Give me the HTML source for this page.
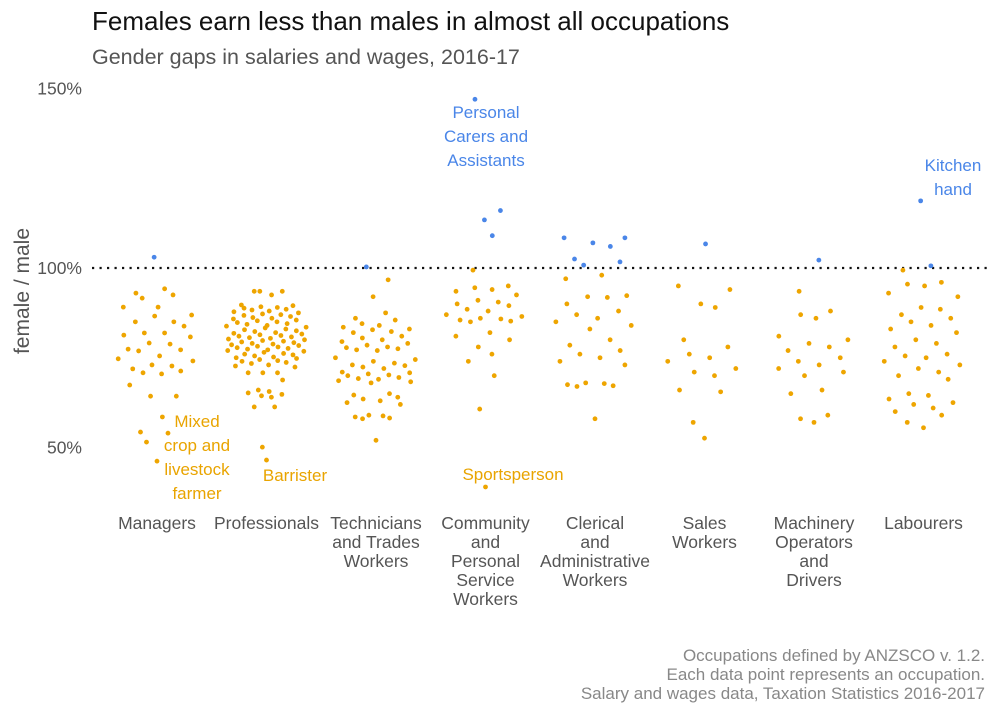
<!DOCTYPE html>
<html><head><meta charset="utf-8"><style>
body{margin:0;background:#fff;}
svg{display:block;font-family:"Liberation Sans",Arial,sans-serif;}
</style></head><body>
<svg id="chart" width="1000" height="714" viewBox="0 0 1000 714">
<text x="92" y="30" font-size="26" fill="#111">Females earn less than males in almost all occupations</text>
<text x="92" y="64" font-size="21.5" fill="#555">Gender gaps in salaries and wages, 2016-17</text>
<text transform="translate(29,291) rotate(-90)" text-anchor="middle" font-size="21" fill="#555">female / male</text>
<g id="yticks"></g>
<line id="parity" x1="92" x2="988" stroke="#111" stroke-width="2.2" stroke-dasharray="2.2 5.3"></line>
<g id="points"></g>
<g id="xlabels"></g>
<g font-size="17" text-anchor="middle">
<text fill="#4a86e8" x="486" y="118"><tspan x="486">Personal</tspan><tspan x="486" dy="24">Carers and</tspan><tspan x="486" dy="24">Assistants</tspan></text>
<text fill="#4a86e8" x="953" y="171"><tspan x="953">Kitchen</tspan><tspan x="953" dy="24">hand</tspan></text>
<text fill="#e9a400" x="197" y="427"><tspan x="197">Mixed</tspan><tspan x="197" dy="24">crop and</tspan><tspan x="197" dy="24">livestock</tspan><tspan x="197" dy="24">farmer</tspan></text>
<text fill="#e9a400" x="295" y="481">Barrister</text>
<text fill="#e9a400" x="513" y="480">Sportsperson</text>
</g>
<g font-size="17" fill="#888" text-anchor="end">
<text x="985" y="661">Occupations defined by ANZSCO v. 1.2.</text>
<text x="985" y="680">Each data point represents an occupation.</text>
<text x="985" y="699">Salary and wages data, Taxation Statistics 2016-2017</text>
</g>
</svg>
<script>
const categories=[["Managers"],["Professionals"],["Technicians","and Trades","Workers"],["Community","and","Personal","Service","Workers"],["Clerical","and","Administrative","Workers"],["Sales","Workers"],["Machinery","Operators","and","Drivers"],["Labourers"]];
const yTicks=[50,100,150];
const managers=[103,94.2,93,92.5,91.6,89.1,89.1,86.6,86.9,85,85,83.8,81.9,81.9,81.3,80.8,79.1,78.8,77.4,77.2,76.9,75.5,74.7,74.1,73,72.7,71.9,71.3,70.8,70.5,67.4,64.3,64.3,58.5,54.3,54,51.5,46.2];
const professionals=[93.5,93.5,93.5,92.5,89.7,89.5,89.2,89,88.8,88.5,88.3,88,87.8,87.5,87.2,87,86.8,86.5,86.2,86,85.8,85.5,85.3,85,84.8,84.5,84.3,84,83.8,83.5,83.3,83,82.8,82.5,82.3,82,81.8,81.6,81.4,81.2,81,80.8,80.6,80.4,80.2,80,79.8,79.6,79.4,79.2,79,78.8,78.6,78.4,78.2,78,77.8,77.6,77.4,77.2,77,76.8,76.5,76.2,76,75.8,75.5,75.2,75,74.8,74.5,74.2,74,73.7,73.4,73,72.7,72.4,70.8,70.8,70.8,68.8,66,65.6,65.2,64.8,64.4,64,61.3,61.3,50.1,46.5];
const technicians=[100.3,96.7,92,87.5,86,85.5,84.5,84,83.5,83,82.8,82.3,82,81,80.5,80,79.5,79,78.5,78,77.8,77.5,77.2,77,75,74.5,74,73.5,73,72.8,72.4,72,71,70.8,70.5,70.2,70,69.5,69.2,69,68.6,68.3,68,65,64.6,64,63.5,63,62.5,62,59,58.8,58.5,58.2,58,52];
const community=[147,116,113.4,109,99.4,95,94.5,94,93.5,92.5,91,90.5,90,89.5,88.5,88,87,86.5,86,85.8,85.5,85.2,85,82,81,80,78,76,74,70,60.7,39];
const clerical=[108.4,108.4,107,106,102.5,101.7,100.8,98,97,92.3,92,91.8,90,88,87,86,85,84,83,80,78.5,77,76,75,74,73,68,67.8,67.5,67.2,67,58];
const sales=[106.7,95,94,90,89,80,78,76,75,74,72,71,70,66,65.5,57,52.6];
const machinery=[102.2,93.5,88,87,86,81,80,79,78,77,75,74,73,72,71,70,66,65,59,58,57];
const labourers=[118.7,100.6,99.4,96,95.5,95,93,92,89,88.5,87,86,85,84,83,82,80,79,78,76,75.5,75,74,73,72,71,70,69,65,64.5,63.5,62.5,62,61,60,59,57,55.5];
const series=[managers,professionals,technicians,community,clerical,sales,machinery,labourers];

const NS="http://www.w3.org/2000/svg";
const xScale=i=>157+i*109.5;
const yScale=v=>268-(v-100)*3.59;
function mk(tag,attrs,parent){const e=document.createElementNS(NS,tag);for(const k in attrs)e.setAttribute(k,attrs[k]);parent.appendChild(e);return e;}
const par=document.getElementById('parity');par.setAttribute('y1',yScale(100));par.setAttribute('y2',yScale(100));
const yt=document.getElementById('yticks');
yTicks.forEach(t=>{const e=mk('text',{x:82,y:yScale(t)+6,'text-anchor':'end','font-size':17.5,fill:'#555'},yt);


e.textContent=t+'%';});
const xl=document.getElementById('xlabels');
categories.forEach((lines,i)=>{const e=mk('text',{x:xScale(i),y:529,'text-anchor':'middle','font-size':17.5,fill:'#555'},xl);


lines.forEach((l,j)=>{const s=mk('tspan',{x:xScale(i),dy:j?19:0},e);s.textContent=l;});});
function vdc(n){let r=0,d=0.5;while(n>0){if(n&1)r+=d;n>>=1;d/=2;}return r;}
const pg=document.getElementById('points');
series.forEach((vals,ci)=>{
  const dens=v=>vals.reduce((s,w)=>s+Math.exp(-0.5*((v-w)/4.5)**2),0);
  const maxD=Math.max(...vals.map(dens));
  const sorted=vals.map((v,i)=>({v,i})).sort((a,b)=>a.v-b.v);
  sorted.forEach((p,rank)=>{
    const w=42*Math.sqrt(dens(p.v)/maxD);
    const off=(vdc(rank+1)-0.5)*2*w;
    const c=mk('circle',{cx:xScale(ci)+off,cy:yScale(p.v),r:2.4,fill:p.v>100?'#4a86e8':'#eea500'},pg);
    
    
  });
});
</script>
</body></html>
